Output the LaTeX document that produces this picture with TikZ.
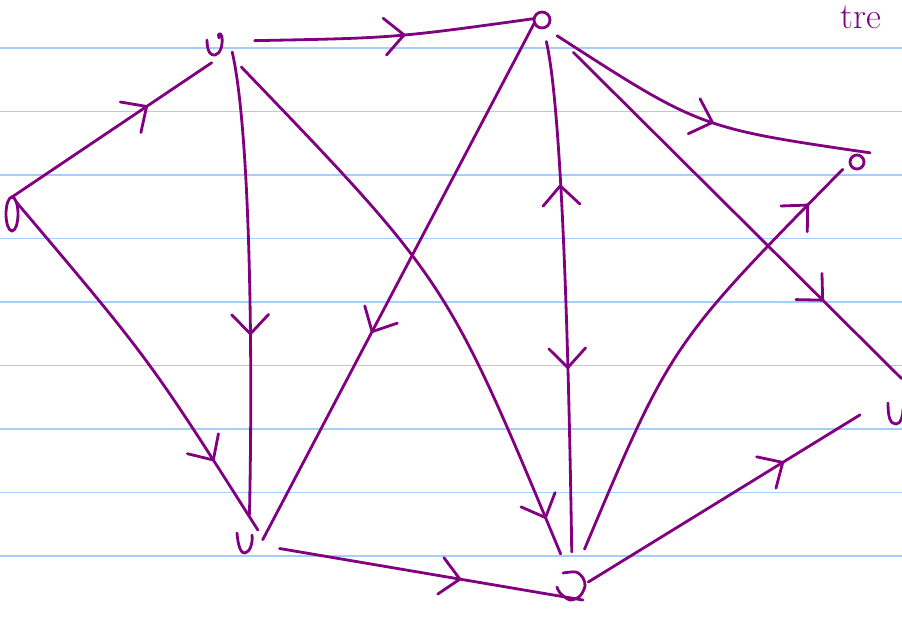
\documentclass[tikz,border=0pt]{standalone}
\usepackage{xcolor}
\usetikzlibrary{arrows.meta, positioning, calc, shapes.geometric, decorations.markings}

\definecolor{ink}{RGB}{128,0,128}
\definecolor{ruleblue}{RGB}{166,206,250}

\begin{document}
\begin{tikzpicture}[
  x=0.02cm, y=-0.02cm,
  pen/.style={draw=ink, line width=1.6pt, line cap=round, line join=round},
  vtx/.style={circle, inner sep=0pt, outer sep=0pt, minimum size=#1},
  ring/.style={circle, draw=ink, line width=1.6pt, inner sep=0pt, outer sep=0pt, minimum size=#1},
  chev/.style={postaction={decorate, decoration={markings,
      mark=at position #1 with {\arrow{Straight Barb[length=11pt,width=21pt,line width=1.6pt,round]}}}}},
  chevback/.style={postaction={decorate, decoration={markings,
      mark=at position #1 with {\arrowreversed{Straight Barb[length=11pt,width=21pt,line width=1.6pt,round]}}}}}
]
  \useasboundingbox (0,0) rectangle (902,616);
  % ruled paper
  \foreach \y in {48,111.5,...,560}
    \draw[ruleblue, line width=1pt] (0,\y) -- (902,\y);

  % vertices
  \node[ring=0pt, ellipse, minimum width=0.24cm, minimum height=0.68cm] (A) at (12,214) {};
  \node[vtx=0.76cm] (B) at (215,44) {};
  \node[ring=0.32cm] (C) at (542,20) {};
  \node[vtx=0.64cm] (D) at (857,162) {};
  \node[vtx=1.4cm] (E) at (895,413) {};
  \node[vtx=0.76cm] (F) at (244,543) {};
  \node[vtx=0.68cm] (G) at (572,587) {};

  % hand marks of the vertices
  \draw[pen, shift={(B.center)}] (-8,-4) .. controls (-8,8) and (-4,12) .. (0,11)
    .. controls (5,10) and (8,2) .. (7,-7) .. controls (6,-12) and (2,-11) .. (4,-6);
  \draw[pen] (D) circle[radius=7];
  \draw[pen, shift={(E.center)}] (-7,-10) .. controls (-7,4) and (-5,11) .. (1,11)
    .. controls (6,11) and (8,3) .. (8,-4);
  \draw[pen, shift={(F.center)}] (-7,-10) .. controls (-6,3) and (-3,11) .. (1,10)
    .. controls (6,9) and (9,0) .. (8,-8);
  \draw[pen, shift={(G.center)}] plot[smooth] coordinates
    {(-9,-14) (4,-15) (11,-9) (13,-1) (8,9) (-2,13) (-12,6) (-15,0)};

  % edges
  \draw[pen, chev=0.68] (A.north) -- (B.260);
  \draw[pen, chev=0.57, shorten <=0.42cm] (B.9) .. controls (394,38) .. (C.170);
  \draw[pen, chev=0.6, shorten >=0.2cm] (B.335) .. controls (250,130) and (253,350) .. (F.74);
  \draw[pen, chev=0.91, shorten <=0.32cm, shorten >=0.36cm] (B.323) .. controls (447,281) .. (G.105);
  \draw[pen, chev=0.8] (A.north east) .. controls (150,360) .. (F.43);
  \draw[pen, chev=0.6] (C.200) -- (F.10);
  \draw[pen, chevback=0.29, chev=0.63, shorten <=0.28cm, shorten >=0.36cm] (C.278) .. controls (560,100) and (568,300) .. (G.90);
  \draw[pen, chev=0.55, shorten <=0.3cm] (C.288) .. controls (700,128) .. (D.35);
  \draw[pen, chev=0.78, shorten <=0.74cm] (C.309) -- (E.79);
  \draw[pen, chev=0.9, shorten <=0.46cm] (G.78) .. controls (671,344) .. (D.207);
  \draw[pen, chev=0.62, shorten <=0.34cm] (F.352) -- (G.310);
  \draw[pen, chev=0.72] (G.17) -- (E.183);

  \node[text=ink, font=\huge, anchor=north west, inner sep=0pt] (note) at (840,6) {tre};
\end{tikzpicture}
\end{document}
